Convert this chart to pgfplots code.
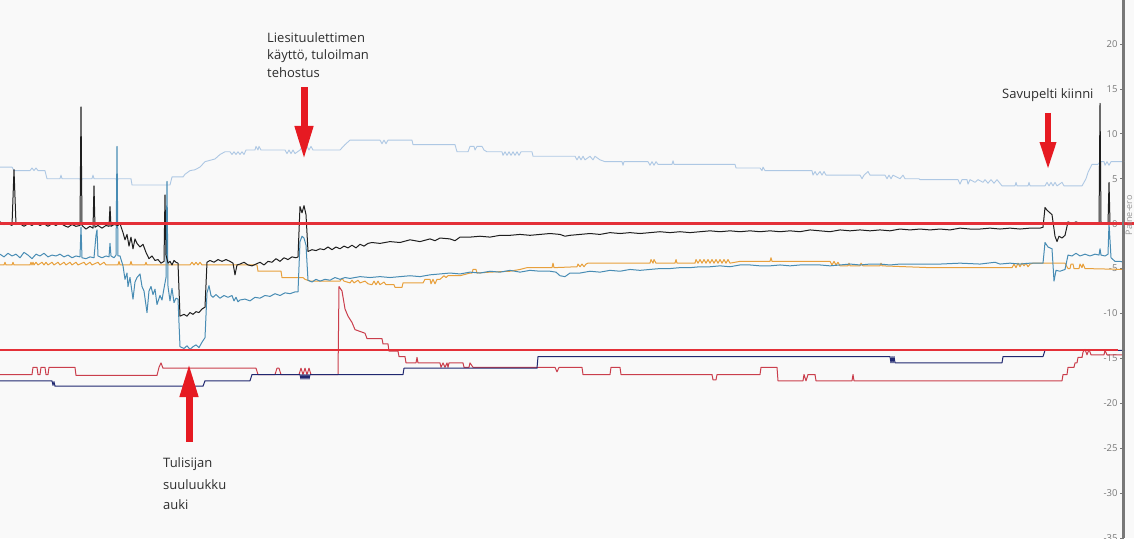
\documentclass[border=0pt]{standalone}
\usepackage{pgfplots}
\pgfplotsset{compat=1.18}
\usepackage{fontspec}
\setmainfont{Open Sans}
\usetikzlibrary{arrows.meta}
\definecolor{bg}{RGB}{249,249,249}
\definecolor{lblue}{RGB}{174,200,228}
\definecolor{blk}{RGB}{30,30,30}
\definecolor{teal2}{RGB}{72,140,180}
\definecolor{orng}{RGB}{232,160,60}
\definecolor{redser}{RGB}{202,62,76}
\definecolor{navy2}{RGB}{32,40,112}
\definecolor{thr}{RGB}{228,48,56}
\definecolor{arr}{RGB}{230,26,34}
\definecolor{axgray}{RGB}{120,120,120}
\definecolor{ticktxt}{RGB}{120,120,120}
\definecolor{lbltxt}{RGB}{150,150,150}
\definecolor{txt}{RGB}{45,45,45}
\begin{document}
\begin{tikzpicture}[x=1pt,y=1pt]
\fill[bg] (0,0) rectangle (1134,538);
\begin{axis}[
  at={(0,0)}, anchor=south west,
  scale only axis, width=1124pt, height=538pt,
  xmin=0, xmax=1124, ymin=-35, ymax=24.9,
  hide x axis, axis y line*=right,
  clip=false,
  ytick={-35,-30,...,20},
  tick align=inside, major tick length=4pt,
  major tick style={draw=axgray, line width=0.8pt},
  y axis line style={draw=axgray, line width=1.2pt},
  /pgf/number format/assume math mode=true,
  yticklabel style={font=\fontsize{9.5}{9.5}\selectfont, text=ticktxt, anchor=east, xshift=-3pt},
  ylabel={Paine-ero},
  ylabel style={at={(axis description cs:1,0.6)}, anchor=center, yshift=-4.8pt, inner sep=0pt, font=\fontsize{9}{9}\selectfont, text=lbltxt},
  every axis plot/.append style={line width=1pt, line join=round},
]
% light blue
\addplot[lblue, line width=0.9pt] coordinates {(0,6.3)(12,6.3)(14,5.9)(30,5.9)(32,6.2)(34,5.9)(36,6.2)(38,5.9)(45,5.9)(47,5.0)(60,5.0)(61,5.4)(62,5.0)(80,5.0)(81,4.6)(82,5.0)(92,5.0)(93,5.4)(94,5.0)(116,5.0)(117,4.6)(118,5.0)(131,5.0)(132,4.3)(170,4.3)(172,5.2)(183,5.2)(185,5.5)(190,5.9)(195,6.0)(200,6.3)(205,6.9)(215,7.2)(220,7.7)(225,8.0)(230,8.0)(232,7.7)(234,8.0)(236,7.7)(238,8.0)(240,7.7)(242,8.0)(244,7.7)(246,8.2)(255,8.2)(256,8.6)(258,8.2)(259,8.6)(261,8.2)(285,8.2)(287,7.8)(289,8.2)(291,7.8)(293,8.2)(295,7.8)(300,8.2)(303,8.6)(305,8.2)(307,8.6)(309,8.2)(311,8.6)(313,8.2)(340,8.2)(345,8.8)(350,9.3)(380,9.3)(382,8.9)(384,9.3)(386,8.9)(388,9.3)(412,9.3)(413,8.8)(455,8.8)(457,8.0)(468,8.0)(470,8.6)(474,8.6)(475,8.2)(477,8.6)(482,8.6)(484,8.2)(487,8.0)(502,8.0)(503,7.6)(505,8.0)(507,7.6)(509,8.0)(511,7.6)(513,8.0)(515,7.6)(517,8.0)(519,7.6)(521,8.0)(532,8.0)(533,7.5)(575,7.5)(577,7.1)(579,7.5)(581,7.1)(583,7.5)(585,7.1)(590,7.5)(593,7.1)(595,7.5)(600,7.1)(605,6.9)(622,6.9)(623,6.5)(624,6.9)(648,6.9)(650,6.5)(652,6.9)(654,6.5)(656,6.9)(658,6.6)(672,6.6)(673,7.0)(674,6.6)(735,6.6)(736,6.2)(760,6.2)(762,5.9)(763,6.3)(765,5.9)(812,5.9)(813,5.4)(815,5.8)(817,5.4)(820,5.8)(822,5.4)(824,5.8)(826,5.4)(860,5.4)(862,5.0)(864,5.4)(868,5.8)(870,5.4)(885,5.4)(887,5.0)(889,5.4)(891,5.0)(893,5.4)(900,5.0)(903,5.4)(905,5.0)(919,5.0)(920,4.9)(958,4.9)(960,4.4)(962,4.9)(967,4.9)(968,4.4)(970,4.9)(975,4.6)(978,4.9)(983,4.6)(985,4.9)(988,4.5)(991,4.9)(994,4.5)(997,4.9)(1002,4.2)(1015,4.2)(1016,4.6)(1017,4.2)(1028,4.2)(1029,4.6)(1030,4.2)(1045,4.2)(1047,4.6)(1049,4.2)(1051,4.6)(1053,4.2)(1055,4.6)(1057,4.2)(1062,4.6)(1064,4.2)(1082,4.2)(1086,5.0)(1088,5.7)(1092,6.6)(1098,6.6)(1100,6.9)(1104,6.9)(1105,6.5)(1107,6.9)(1109,6.5)(1111,6.9)(1124,6.9)};
% orange
\addplot[orng] coordinates {(0,-4.6)(4,-4.6)(5,-4.3)(6,-4.6)(12,-4.6)(13,-4.3)(14,-4.6)(30,-4.6)(31,-4.3)(32,-4.6)(33,-4.3)(34,-4.6)(36,-4.3)(38,-4.6)(42,-4.3)(44,-4.6)(46,-4.3)(48,-4.6)(52,-4.3)(54,-4.6)(58,-4.3)(60,-4.6)(64,-4.3)(66,-4.6)(70,-4.3)(72,-4.6)(76,-4.3)(78,-4.6)(84,-4.3)(86,-4.6)(90,-4.3)(92,-4.6)(98,-4.3)(100,-4.6)(104,-4.3)(106,-4.6)(118,-4.6)(119,-4.2)(120,-4.6)(130,-4.6)(131,-4.2)(132,-4.6)(145,-4.6)(146,-4.3)(147,-4.6)(190,-4.6)(192,-4.3)(194,-4.6)(196,-4.3)(198,-4.6)(200,-4.3)(202,-4.6)(257,-4.6)(258,-5.3)(281,-5.3)(282,-6.0)(303,-6.0)(305,-6.2)(310,-6.4)(340,-6.4)(342,-6.1)(344,-6.4)(350,-6.6)(352,-6.3)(354,-6.6)(358,-6.3)(360,-6.6)(365,-6.4)(368,-6.7)(372,-6.8)(374,-6.4)(376,-6.8)(378,-6.4)(380,-6.8)(384,-6.5)(386,-6.8)(394,-6.8)(395,-7.1)(402,-7.1)(403,-6.6)(423,-6.6)(425,-6.2)(430,-6.2)(431,-6.7)(433,-6.2)(435,-6.7)(437,-6.2)(440,-6.2)(442,-6.0)(444,-5.8)(446,-6.0)(448,-5.8)(460,-5.8)(470,-5.5)(472,-5.5)(473,-5.1)(476,-5.1)(477,-5.5)(490,-5.4)(510,-5.3)(520,-5.1)(527,-4.9)(552,-4.9)(553,-4.4)(554,-4.9)(577,-4.8)(578,-4.5)(580,-4.8)(582,-4.5)(584,-4.8)(586,-4.5)(588,-4.4)(650,-4.4)(651,-4.0)(653,-4.4)(654,-4.0)(656,-4.4)(675,-4.4)(676,-4.0)(677,-4.4)(695,-4.4)(696,-4.0)(698,-4.4)(700,-4.0)(702,-4.4)(704,-4.0)(706,-4.4)(708,-4.0)(710,-4.4)(712,-4.0)(714,-4.4)(716,-4.0)(718,-4.4)(720,-4.0)(722,-4.4)(724,-4.0)(726,-4.4)(728,-4.0)(730,-4.4)(740,-4.2)(770,-4.2)(771,-3.8)(772,-4.2)(830,-4.2)(832,-4.6)(834,-4.2)(836,-4.6)(838,-4.3)(840,-4.7)(848,-4.7)(849,-4.4)(850,-4.7)(860,-4.7)(861,-4.4)(863,-4.7)(880,-4.7)(881,-4.4)(882,-4.7)(930,-4.9)(1012,-4.9)(1014,-4.5)(1016,-4.9)(1018,-4.4)(1020,-4.8)(1022,-4.4)(1024,-4.7)(1026,-4.4)(1028,-4.8)(1030,-4.5)(1033,-4.4)(1065,-4.4)(1068,-5.0)(1070,-5.0)(1071,-4.5)(1073,-4.5)(1074,-5.0)(1079,-5.0)(1080,-4.5)(1082,-4.9)(1083,-4.5)(1085,-5.0)(1124,-5.1)};
% teal
\addplot[teal2] coordinates {(0,-3.4)(4,-3.7)(8,-3.3)(12,-3.6)(16,-3.4)(20,-3.8)(24,-3.2)(28,-3.5)(32,-3.9)(36,-3.4)(40,-3.6)(44,-3.3)(48,-3.7)(52,-3.5)(56,-3.6)(60,-3.4)(64,-3.7)(68,-3.5)(72,-3.8)(76,-3.6)(80,-3.7)(81,-0.4)(82,-3.8)(86,-3.9)(90,-3.7)(94,-3.8)(96,-1.3)(97,-0.7)(98,-3.6)(102,-3.8)(106,-3.6)(109,-3.7)(110,-2.2)(111,-3.6)(114,-3.8)(116,-3.5)(117,8.6)(118,-3.6)(120,-3.6)(123,-4.7)(125,-6.2)(127,-5.5)(128,-7.0)(130,-6.0)(133,-8.4)(135,-6.5)(137,-6.0)(140,-5.6)(142,-7.0)(144,-7.5)(147,-9.9)(149,-7.5)(151,-7.0)(153,-7.9)(155,-7.3)(157,-9.0)(160,-8.0)(162,-8.5)(164,-7.2)(166,-6.0)(167,4.7)(168,-7.0)(170,-8.6)(172,-7.2)(174,-8.8)(176,-8.3)(178,-8.4)(180,-13.7)(184,-13.9)(187,-13.6)(190,-14.0)(193,-13.7)(196,-13.5)(199,-13.8)(202,-13.2)(205,-12.7)(207,-7.7)(209,-6.9)(211,-8.0)(213,-8.2)(216,-7.9)(220,-8.3)(224,-8.0)(228,-8.2)(232,-8.0)(234,-8.6)(236,-8.2)(238,-8.7)(240,-8.5)(245,-8.4)(250,-8.6)(255,-8.2)(260,-8.3)(265,-8.0)(270,-8.1)(275,-7.8)(280,-8.0)(285,-7.7)(290,-7.8)(295,-7.6)(298,-7.6)(300,-2.0)(302,-1.4)(304,-1.6)(306,-2.4)(308,-6.3)(312,-6.5)(316,-6.2)(320,-6.4)(325,-6.2)(330,-6.3)(335,-6.0)(340,-6.2)(345,-6.0)(350,-6.1)(360,-5.9)(370,-6.0)(380,-5.9)(390,-6.0)(400,-5.9)(410,-5.8)(420,-5.9)(430,-5.7)(440,-5.6)(450,-5.5)(460,-5.6)(470,-5.4)(480,-5.5)(490,-5.3)(500,-5.4)(510,-5.2)(520,-5.4)(530,-5.2)(540,-5.3)(550,-5.3)(556,-5.4)(560,-5.8)(565,-5.9)(570,-5.5)(580,-5.5)(590,-5.3)(600,-5.4)(610,-5.2)(620,-5.3)(630,-5.1)(640,-5.2)(650,-5.1)(660,-5.0)(670,-5.0)(680,-4.9)(690,-4.9)(700,-4.8)(710,-4.8)(720,-4.7)(730,-4.8)(740,-4.6)(750,-4.6)(760,-4.7)(770,-4.7)(780,-4.6)(790,-4.7)(800,-4.6)(810,-4.6)(820,-4.6)(830,-4.7)(840,-4.6)(850,-4.5)(860,-4.6)(870,-4.5)(880,-4.5)(890,-4.6)(900,-4.5)(920,-4.5)(940,-4.5)(960,-4.4)(980,-4.5)(995,-4.3)(1000,-4.5)(1010,-4.4)(1020,-4.5)(1030,-4.4)(1043,-4.4)(1045,-2.1)(1048,-2.6)(1052,-2.8)(1054,-6.4)(1056,-5.2)(1060,-5.3)(1065,-5.1)(1068,-3.5)(1072,-3.6)(1076,-3.3)(1080,-3.6)(1085,-3.4)(1090,-3.6)(1095,-3.4)(1099,-3.5)(1100,-2.8)(1101,-3.5)(1105,-3.6)(1108,-3.4)(1109,0.1)(1111,-3.8)(1115,-4.2)(1120,-4.2)(1124,-4.3)};
% black
\addplot[blk] coordinates {(0,0.2)(4,-0.1)(8,0.0)(12,-0.2)(14,6.0)(16,-0.1)(20,0.0)(24,-0.3)(28,0.0)(32,-0.2)(36,0.1)(40,-0.2)(44,0.0)(48,-0.3)(52,0.0)(56,-0.2)(60,0.1)(64,-0.2)(68,-0.4)(72,-0.1)(76,-0.3)(80,-0.2)(81,13.0)(82,-0.2)(86,-0.6)(90,-0.3)(93,-0.5)(94,4.2)(95,-0.4)(98,-0.2)(102,-0.5)(106,-0.2)(109,-0.3)(110,1.9)(111,-0.3)(114,-0.1)(118,-0.2)(120,0.0)(123,-1.0)(125,-1.8)(127,-1.2)(129,-2.5)(131,-1.5)(133,-2.8)(135,-1.7)(137,-2.2)(140,-2.6)(143,-2.3)(146,-3.2)(149,-3.9)(152,-3.6)(155,-4.1)(158,-4.0)(161,-4.4)(164,-4.2)(165,3.2)(166,-3.5)(168,-4.4)(170,-4.2)(172,-4.6)(174,-4.1)(176,-4.3)(178,-4.4)(180,-10.3)(184,-10.1)(187,-10.3)(190,-9.9)(193,-10.1)(196,-9.8)(199,-9.9)(202,-9.5)(205,-9.3)(207,-4.3)(210,-4.1)(214,-4.3)(218,-4.0)(222,-4.2)(226,-4.0)(230,-4.2)(233,-4.4)(235,-5.7)(237,-4.6)(240,-4.5)(244,-4.3)(248,-4.6)(252,-4.7)(256,-4.5)(260,-4.3)(264,-4.6)(268,-4.2)(272,-4.3)(276,-3.9)(280,-4.2)(284,-3.8)(288,-4.0)(292,-3.7)(296,-3.8)(298,-3.7)(300,1.9)(302,1.2)(304,2.0)(306,1.0)(308,-3.1)(312,-2.9)(316,-3.0)(320,-2.8)(324,-2.9)(328,-2.6)(332,-2.9)(336,-2.6)(340,-2.8)(344,-2.5)(348,-2.7)(352,-2.4)(356,-2.7)(360,-2.3)(364,-2.5)(368,-2.2)(372,-2.1)(380,-2.2)(390,-2.0)(400,-2.1)(410,-1.8)(420,-2.0)(430,-1.7)(435,-1.9)(440,-1.6)(450,-1.7)(455,-1.9)(460,-1.5)(470,-1.5)(480,-1.4)(490,-1.5)(500,-1.3)(510,-1.3)(520,-1.2)(530,-1.3)(540,-1.2)(550,-1.1)(560,-1.2)(565,-1.4)(570,-1.3)(580,-1.2)(590,-1.1)(600,-1.2)(610,-1.0)(620,-1.1)(630,-1.0)(640,-1.1)(650,-1.0)(660,-0.9)(670,-1.0)(680,-0.9)(690,-1.0)(700,-0.9)(710,-0.8)(720,-0.9)(730,-0.8)(740,-0.9)(750,-0.8)(760,-0.9)(770,-0.8)(780,-0.9)(790,-0.8)(800,-0.9)(810,-0.7)(820,-0.8)(830,-0.9)(840,-0.7)(850,-0.8)(860,-0.7)(870,-0.8)(880,-0.7)(890,-0.8)(900,-0.6)(910,-0.7)(920,-0.6)(930,-0.7)(940,-0.6)(950,-0.7)(960,-0.5)(970,-0.6)(980,-0.6)(990,-0.5)(1000,-0.6)(1010,-0.5)(1020,-0.6)(1030,-0.5)(1040,-0.5)(1043,-0.4)(1045,1.8)(1047,1.5)(1050,1.2)(1052,1.0)(1055,-1.4)(1057,-2.0)(1059,-1.4)(1062,-1.6)(1065,-1.3)(1068,0.2)(1072,0.0)(1076,0.2)(1080,0.0)(1085,0.1)(1090,0.0)(1095,0.1)(1099,0.0)(1100,13.4)(1101,0.0)(1106,0.1)(1108,0.0)(1109,4.6)(1110,0.0)(1115,0.1)(1124,0.0)};
% red series
\addplot[redser] coordinates {(0,-16.8)(32,-16.8)(33,-16.0)(37,-16.0)(38,-16.8)(40,-16.8)(41,-16.0)(45,-16.0)(46,-16.8)(48,-16.8)(49,-16.0)(75,-16.0)(76,-16.9)(157,-16.9)(159,-16.0)(161,-15.5)(163,-16.1)(256,-16.1)(258,-16.8)(275,-16.8)(277,-16.1)(279,-16.1)(281,-16.8)(299,-16.8)(301,-16.1)(303,-16.8)(305,-16.1)(307,-16.8)(309,-16.1)(311,-16.8)(338,-16.8)(339,-7.0)(342,-7.5)(345,-9.5)(348,-10.3)(352,-11.0)(355,-11.8)(365,-12.2)(367,-12.8)(382,-12.8)(383,-13.4)(388,-13.4)(389,-14.2)(398,-14.2)(399,-14.8)(405,-14.8)(406,-15.5)(416,-15.5)(417,-14.9)(418,-15.5)(440,-15.5)(441,-16.0)(443,-15.5)(445,-16.0)(447,-15.5)(448,-16.0)(449,-15.5)(463,-15.5)(464,-16.0)(469,-16.0)(470,-15.5)(473,-16.0)(555,-16.0)(557,-16.5)(559,-16.0)(582,-16.0)(583,-16.8)(610,-16.8)(611,-16.0)(620,-16.0)(621,-16.8)(712,-16.8)(713,-17.4)(716,-17.4)(717,-16.8)(760,-16.8)(761,-16.0)(777,-16.0)(778,-17.5)(803,-17.5)(804,-16.8)(806,-17.5)(808,-16.8)(815,-16.8)(816,-17.5)(852,-17.5)(853,-16.8)(854,-17.5)(1062,-17.5)(1063,-16.8)(1067,-16.8)(1068,-16.0)(1074,-16.0)(1075,-15.5)(1077,-15.5)(1078,-14.9)(1082,-14.9)(1083,-14.3)(1085,-14.0)(1087,-14.6)(1089,-14.0)(1091,-14.6)(1104,-14.6)(1105,-14.1)(1107,-14.6)(1124,-14.6)};
% navy
\addplot[navy2] coordinates {(0,-17.5)(52,-17.5)(53,-18.0)(54,-17.6)(55,-18.1)(203,-18.1)(205,-17.5)(250,-17.5)(252,-16.8)(300,-16.8)(301,-17.3)(302,-16.8)(303,-17.3)(304,-16.8)(305,-17.3)(306,-16.8)(307,-17.3)(308,-16.8)(309,-17.3)(310,-16.8)(403,-16.8)(404,-16.1)(537,-16.1)(538,-14.8)(890,-14.8)(891,-15.5)(892,-14.8)(893,-15.5)(894,-14.8)(895,-15.5)(1002,-15.5)(1003,-14.8)(1043,-14.8)(1045,-14.1)(1124,-14.1)};
% thresholds
\addplot[thr, line width=2.4pt] coordinates {(0,0)(1134,0)};
\addplot[thr, line width=2.4pt] coordinates {(0,-14.1)(1118,-14.1)};
% right axis line
\draw[axgray, line width=1.2pt] (axis cs:1123,-35) -- (axis cs:1123,24.9);
% annotations
\draw[arr, line width=7pt, -{Triangle[width=17pt,length=34pt]}] (axis cs:304,15.21) -- (axis cs:304,7.09);
\draw[arr, line width=6pt, -{Triangle[width=15pt,length=28pt]}] (axis cs:1048,12.32) -- (axis cs:1048,5.97);
\draw[arr, line width=7pt, -{Triangle[width=17pt,length=34pt]}] (axis cs:189,-24.31) -- (axis cs:189,-15.52);
\begin{scope}[every node/.style={anchor=base west, inner sep=0pt, text=txt, font=\fontsize{13}{16}\selectfont}]
\node at (axis cs:267,20.22) {Liesituulettimen};
\node at (axis cs:267,18.22) {käyttö, tuloilman};
\node at (axis cs:267,16.22) {tehostus};
\node at (axis cs:1002,13.88) {Savupelti kiinni};
\node at (axis cs:163,-27.10) {Tulisijan};
\node at (axis cs:163,-29.55) {suuluukku};
\node at (axis cs:163,-31.88) {auki};
\end{scope}
\end{axis}
\pgfresetboundingbox
\path[use as bounding box] (0,0) rectangle (1134,538);
\end{tikzpicture}
\end{document}
